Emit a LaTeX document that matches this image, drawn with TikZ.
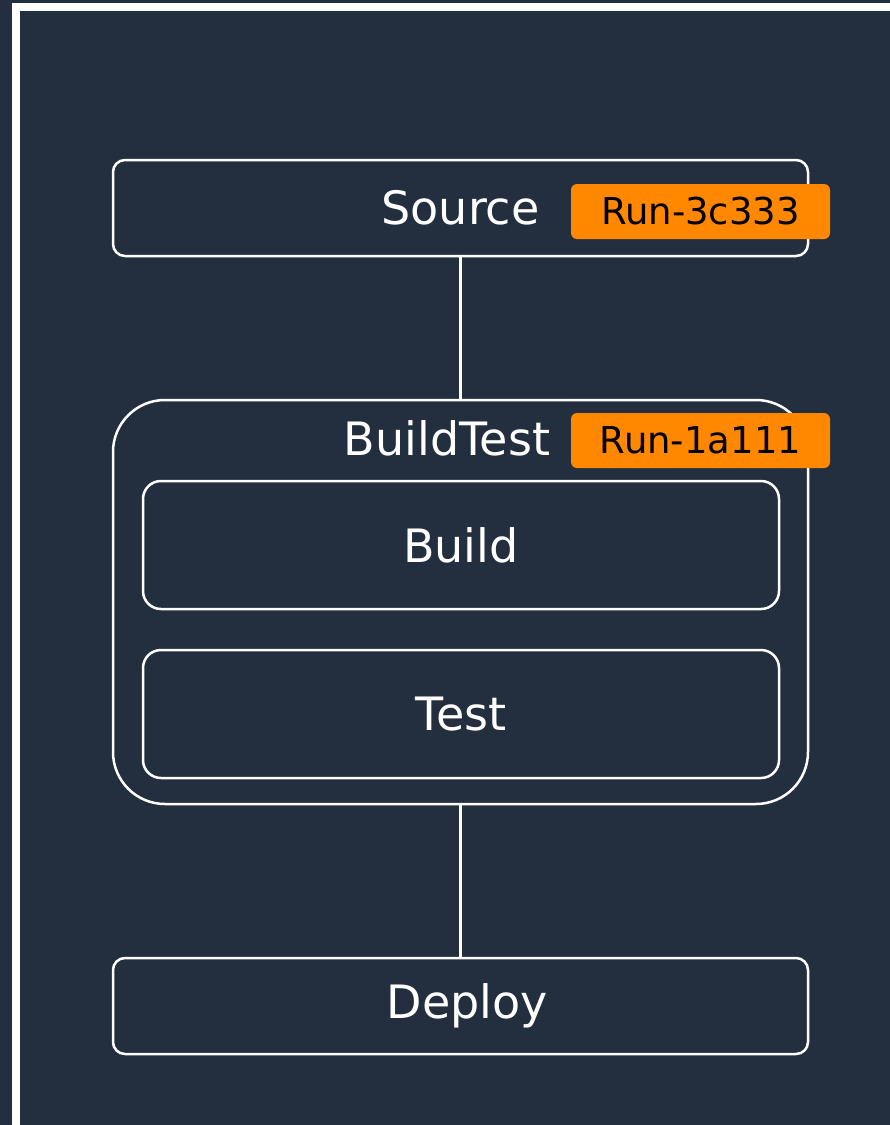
\documentclass[tikz,border=0pt]{standalone}
\usepackage{fontspec}
\setmainfont{DejaVu Sans}
\definecolor{navy}{HTML}{232F3E}
\definecolor{runorange}{HTML}{FF8800}

\begin{document}
\begin{tikzpicture}[x=1pt,y=-1pt,line width=2.5pt,
            every node/.style={inner sep=0pt,font=\fontsize{46}{55}\selectfont,text=white},
            stage/.style={draw=white,rounded corners=12pt,minimum width=695pt,minimum height=96pt},
            action/.style={draw=white,rounded corners=18pt,minimum width=636pt,minimum height=128pt},
            runid/.style={fill=runorange,rounded corners=6pt,minimum width=259pt,minimum height=55pt,
                text=black,font=\fontsize{37}{44}\selectfont}]
            \clip (0,0) rectangle (890,1125);
            \useasboundingbox (0,0) rectangle (890,1125);
            \fill[navy] (0,0) rectangle (890,1125);
            \draw[white,line width=8pt] (16,7) rectangle (900,1140);

            % stages
            \node[stage](src) at (460.5, 208) {Source};
            \node[draw=white,rounded corners=52pt,minimum width=695pt,minimum height=404pt](bt) at (460.5, 602) {};
            \node(btname) at (447, 438) {BuildTest};
            \node[action](bld) at (461, 545) {Build};
            \node[action](tst) at (461, 714) {Test};
            \node[stage](dpl) at (460.5, 1006) {\hspace*{14pt}Deploy};

            % execution ids
            \node[runid](r1) at (700.5, 211.5) {Run-3c333};
            \node[runid](r2) at (700.5, 440.5) {Run-1a111};

            \draw[white](src)--(bt);
            \draw[white](bt)--(dpl);
        \end{tikzpicture}
\end{document}
